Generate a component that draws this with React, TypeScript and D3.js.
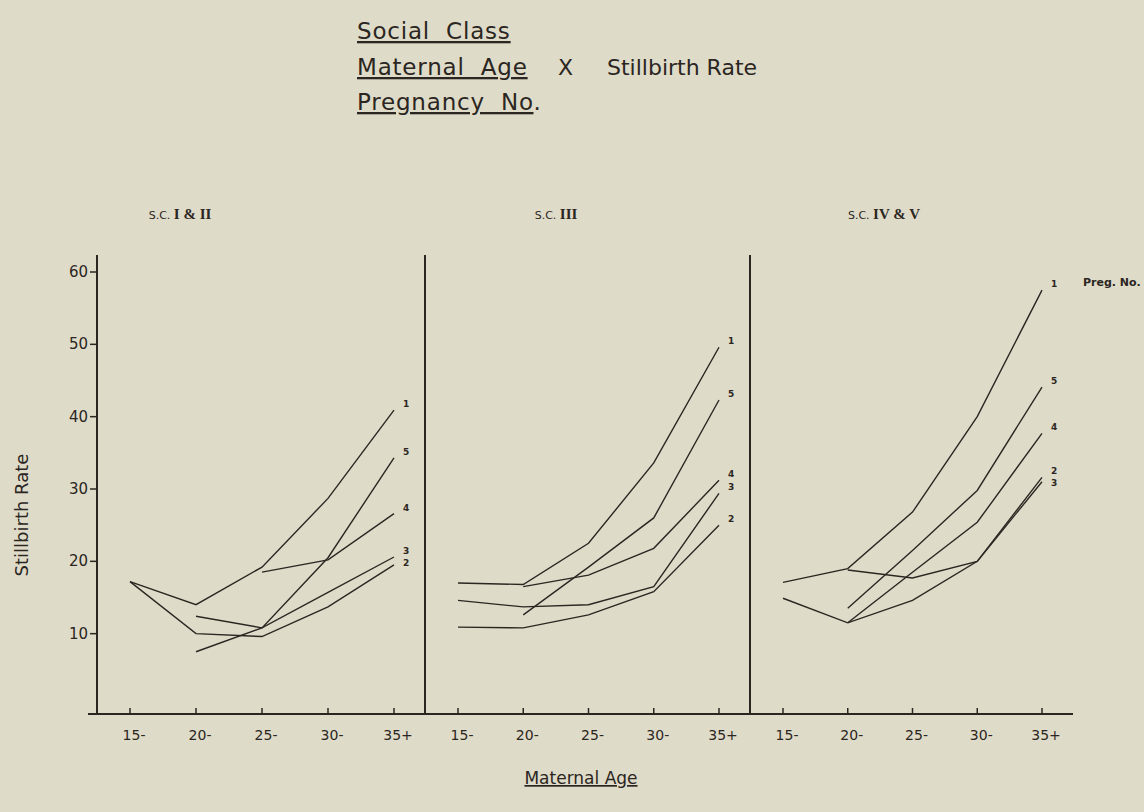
import React from "react";
import * as d3 from "d3";

// maternal age groups (x axis) and pregnancy numbers (series)
const ages = ["15-", "20-", "25-", "30-", "35+"];
const pregNos = ["1", "2", "3", "4", "5"];
const panelTitles = [
  ["S.C. ", "I & II"],
  ["S.C. ", "III"],
  ["S.C. ", "IV & V"],
];

// stillbirth rate by preg. no. (rows 1..5) and maternal age (cols), null = not plotted
const sc12Rates = [
  [17.2, 14.0, 19.2, 28.7, 40.9],
  [17.2, 10.0, 9.6, 13.7, 19.5],
  [null, 12.4, 10.8, 15.7, 20.6],
  [null, null, 18.5, 20.2, 26.6],
  [null, 7.5, 10.8, 20.5, 34.3],
];
const sc3Rates = [
  [17.0, 16.8, 22.5, 33.6, 49.6],
  [10.9, 10.8, 12.6, 15.8, 25.0],
  [14.6, 13.7, 14.0, 16.5, 29.4],
  [null, 16.5, 18.1, 21.8, 31.2],
  [null, 12.6, 19.2, 26.0, 42.3],
];
const sc45Rates = [
  [17.1, 19.0, 26.8, 40.0, 57.5],
  [14.9, 11.5, 14.6, 20.0, 31.6],
  [null, 18.8, 17.7, 20.0, 31.0],
  [null, 11.5, 18.5, 25.4, 37.7],
  [null, 13.5, 21.5, 29.8, 44.1],
];
const yTicks = [10, 20, 30, 40, 50, 60];

const panelData = [sc12Rates, sc3Rates, sc45Rates];

// layout
const W = 1144;
const H = 812;
const panelEdges = [97, 425, 750, 1073];
const axisTop = 255;
const baseY = 714;
const titleOffsets = [83, 131, 134];
const ink = "#2b2621";
const sans = "'DejaVu Sans', sans-serif";

const y = d3.scaleLinear().domain([0, 60]).range([706, 272]);

export default function App() {
  const panels = panelData.map((rates, pi) => {
    const left = panelEdges[pi];
    const right = panelEdges[pi + 1];
    const x = d3.scalePoint<string>().domain(ages).range([left + 33, right - 31]);
    const line = d3
      .line<number | null>()
      .defined((d) => d != null)
      .x((_, i) => x(ages[i]) as number)
      .y((d) => y(d as number));

    // end labels, nudged apart when they collide
    const labels = rates
      .map((r, i) => ({ t: pregNos[i], x: (x(ages[4]) as number) + 9, y: y(r[4] as number) - 3 }))
      .sort((a, b) => a.y - b.y);
    for (let i = 1; i < labels.length; i++) {
      if (labels[i].y - labels[i - 1].y < 12) labels[i].y = labels[i - 1].y + 12;
    }

    return (
      <g key={pi}>
        <line x1={left} x2={left} y1={axisTop} y2={baseY} stroke={ink} strokeWidth={2} />
        {ages.map((a) => (
          <g key={a}>
            <line x1={x(a)} x2={x(a)} y1={baseY} y2={baseY - 6} stroke={ink} strokeWidth={1.5} />
            <text
              x={(x(a) as number) + 4}
              y={baseY + 26}
              textAnchor="middle"
              fontFamily={sans}
              fontSize={14}
              fill={ink}
            >
              {a}
            </text>
          </g>
        ))}
        {rates.map((r, i) => (
          <path key={i} d={line(r) || ""} fill="none" stroke={ink} strokeWidth={1.4} />
        ))}
        {labels.map((l) => (
          <text key={l.t} x={l.x} y={l.y} fontFamily={sans} fontSize={9} fontWeight="bold" fill={ink}>
            {l.t}
          </text>
        ))}
        <text x={left + titleOffsets[pi]} y={219} textAnchor="middle" fill={ink} fontSize={13}>
          <tspan fontFamily={sans} fontSize={11}>
            {panelTitles[pi][0]}
          </tspan>
          <tspan fontFamily="'Liberation Serif', serif" fontWeight="bold" fontSize={15}>
            {panelTitles[pi][1]}
          </tspan>
        </text>
      </g>
    );
  });

  return (
    <svg
      width={W}
      height={H}
      style={{ position: "absolute", left: 0, top: 0, display: "block" }}
    >
      <rect width={W} height={H} fill="#dfdbc9" />
      {/* heading */}
      <g fontFamily={sans} fill={ink}>
        <g fontSize={23} letterSpacing={0.8} wordSpacing={8}>
          <text x={357} y={39} textDecoration="underline">Social Class</text>
          <text x={357} y={75} textDecoration="underline">Maternal Age</text>
          <text x={357} y={110}>
            <tspan textDecoration="underline">Pregnancy No</tspan>.
          </text>
        </g>
        <g fontSize={22}>
          <text x={558} y={75}>X</text>
          <text x={607} y={75}>Stillbirth Rate</text>
        </g>
      </g>
      {/* y axis ticks */}
      {yTicks.map((t) => (
        <g key={t}>
          <line x1={90} x2={97} y1={y(t)} y2={y(t)} stroke={ink} strokeWidth={1.5} />
          <text
            x={88}
            y={y(t) + 5}
            textAnchor="end"
            fontFamily={sans}
            fontSize={15}
            fill={ink}
          >
            {t}
          </text>
        </g>
      ))}
      <line x1={88} x2={panelEdges[3]} y1={baseY} y2={baseY} stroke={ink} strokeWidth={2} />
      {panels}
      <text
        transform={`translate(28,515) rotate(-90)`}
        textAnchor="middle"
        fontFamily={sans}
        fontSize={18}
        fill={ink}
      >
        Stillbirth Rate
      </text>
      <text x={1083} y={286} fontFamily={sans} fontSize={11} fontWeight="bold" fill={ink}>
        Preg. No.
      </text>
      <text
        x={581}
        y={784}
        textAnchor="middle"
        fontFamily={sans}
        fontSize={17}
        fill={ink}
        textDecoration="underline"
      >
        Maternal Age
      </text>
    </svg>
  );
}
